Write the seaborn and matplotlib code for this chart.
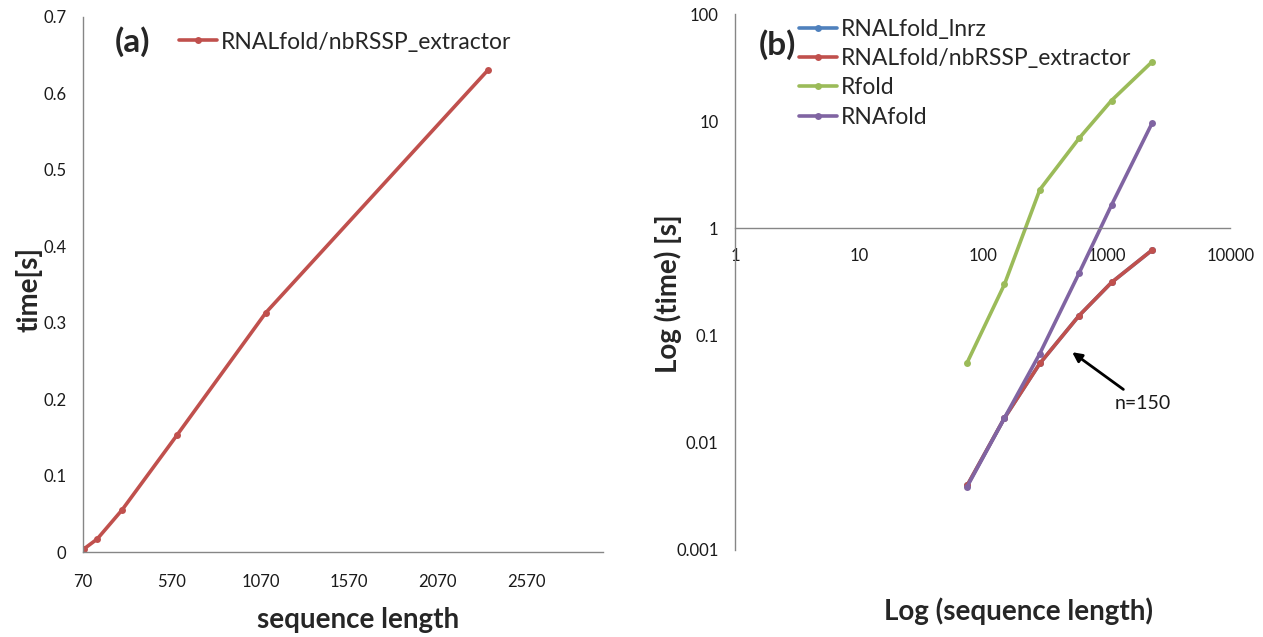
import matplotlib
matplotlib.use("Agg")
import matplotlib.pyplot as plt
import seaborn as sns
import pandas as pd
from matplotlib.ticker import FixedLocator, FuncFormatter

sns.set_theme(style="white")
plt.rcParams['font.family'] = ['Lato', 'DejaVu Sans']

# ---------------- data ----------------
lengths = [75, 150, 290, 600, 1100, 2350]
t_lnrz = [0.004, 0.017, 0.055, 0.153, 0.313, 0.63]
t_nbrssp = [0.004, 0.017, 0.055, 0.153, 0.313, 0.63]
t_rfold = [0.056, 0.30, 2.3, 6.9, 15.6, 36.0]
t_rnafold = [0.0039, 0.017, 0.068, 0.38, 1.65, 9.7]

methods = ["RNALfold_lnrz", "RNALfold/nbRSSP_extractor", "Rfold", "RNAfold"]
colors = ["#4F81BD", "#C0504D", "#9BBB59", "#8064A2"]
left_xticks = [70, 570, 1070, 1570, 2070, 2570]
left_yticks = [0, 0.1, 0.2, 0.3, 0.4, 0.5, 0.6, 0.7]
right_xticks = [1, 10, 100, 1000, 10000]
right_yticks = [0.001, 0.01, 0.1, 1, 10, 100]

df_a = pd.DataFrame({"length": lengths, "time": t_nbrssp, "method": methods[1]})
df_b = pd.concat([
    pd.DataFrame({"length": lengths, "time": t, "method": m})
    for m, t in zip(methods, [t_lnrz, t_nbrssp, t_rfold, t_rnafold])
], ignore_index=True)

axis_col = "#868686"
tick_col = "#1a1a1a"
W, H = 1263, 637

fig = plt.figure(figsize=(12.63, 6.37), dpi=100)
ax1 = fig.add_axes([0.0657, 0.1334, 0.4117, 0.84])
ax2 = fig.add_axes([0.582, 0.1366, 0.392, 0.8414])

# ---------------- panel (a) ----------------
sns.lineplot(data=df_a, x="length", y="time", hue="method", palette=[colors[1]],
             marker="o", markersize=5, markeredgewidth=0, linewidth=2.6, ax=ax1)
ax1.set_xlim(70, 3000)
ax1.set_ylim(0, 0.7)
ax1.xaxis.set_major_locator(FixedLocator(left_xticks))
ax1.yaxis.set_major_locator(FixedLocator(left_yticks))
ax1.yaxis.set_major_formatter(FuncFormatter(lambda v, p: "0" if v == 0 else f"{v:g}"))
for s in ["top", "right"]:
    ax1.spines[s].set_visible(False)
for s in ["left", "bottom"]:
    ax1.spines[s].set_color(axis_col)
    ax1.spines[s].set_linewidth(1.0)
ax1.tick_params(axis="both", which="major", direction="out", length=5, width=1,
                color=axis_col, labelsize=12, labelcolor=tick_col, pad=7)
ax1.tick_params(axis="x", pad=11)
ax1.set_xlabel("sequence length", fontsize=20, fontweight="bold")
ax1.set_ylabel("time[s]", fontsize=20, fontweight="bold")
ax1.xaxis.set_label_coords(0.529, -0.103)
ax1.yaxis.set_label_coords(-0.078, 0.49)
ax1.legend(loc="center left", bbox_to_anchor=(179 / W, 1 - 42 / H),
           bbox_transform=fig.transFigure, frameon=False, fontsize=16.5,
           handlelength=1.66, handletextpad=0.17, borderpad=0, borderaxespad=0)
fig.text(133 / W, 1 - 42 / H, "(a)", fontsize=24, fontweight="bold", ha="center", va="center")

# ---------------- panel (b) ----------------
sns.lineplot(data=df_b, x="length", y="time", hue="method", hue_order=methods,
             palette=colors, marker="o", markersize=5, markeredgewidth=0,
             linewidth=2.6, ax=ax2)
ax2.set_xscale("log")
ax2.set_yscale("log")
ax2.set_xlim(1, 10000)
ax2.set_ylim(0.001, 100)
ax2.xaxis.set_major_locator(FixedLocator(right_xticks))
ax2.yaxis.set_major_locator(FixedLocator(right_yticks))
ax2.xaxis.set_minor_locator(FixedLocator([]))
ax2.yaxis.set_minor_locator(FixedLocator([]))
ax2.xaxis.set_major_formatter(FuncFormatter(lambda v, p: f"{v:g}" if v < 1e4 else "10000"))
ax2.yaxis.set_major_formatter(FuncFormatter(lambda v, p: f"{v:g}"))
for s in ["top", "right"]:
    ax2.spines[s].set_visible(False)
for s in ["left", "bottom"]:
    ax2.spines[s].set_color(axis_col)
    ax2.spines[s].set_linewidth(1.0)
ax2.spines["bottom"].set_position(("data", 1))
ax2.tick_params(axis="both", which="major", direction="out", length=5, width=1,
                color=axis_col, labelsize=12, labelcolor=tick_col, pad=7)
ax2.tick_params(axis="x", pad=9)
ax2.set_xlabel("Log (sequence length)", fontsize=20, fontweight="bold")
ax2.set_ylabel("Log (time) [s]", fontsize=20, fontweight="bold")
ax2.xaxis.set_label_coords((1018 - 735) / 495, -0.089)
ax2.yaxis.set_label_coords(-0.107, 0.478)
ax2.legend(loc="upper left", bbox_to_anchor=(799 / W, 1 - 19 / H),
           bbox_transform=fig.transFigure, frameon=False, fontsize=16.5,
           handlelength=1.66, handletextpad=0.17, borderpad=0, borderaxespad=0,
           labelspacing=0.36)
fig.text(777 / W, 1 - 45 / H, "(b)", fontsize=24, fontweight="bold", ha="center", va="center")

ax2.annotate("n=150", xy=(529, 0.070), xytext=(1170, 0.0232),
             fontsize=14, color="#1a1a1a", ha="left", va="center",
             arrowprops=dict(arrowstyle="-|>", color="black", lw=2,
                             mutation_scale=14, shrinkA=3, shrinkB=0))

fig.savefig("out.png", dpi=100)
